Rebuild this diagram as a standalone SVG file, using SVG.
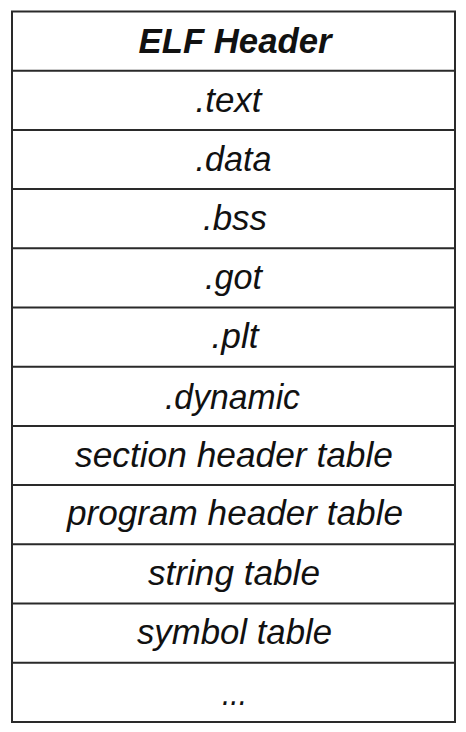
<svg xmlns="http://www.w3.org/2000/svg" width="466" height="732" viewBox="0 0 466 732">
<style>
.t{font-family:"Liberation Sans",Arial,sans-serif;font-style:italic;font-size:35px;fill:#111;text-anchor:middle}
.b{font-weight:bold}
.ln{stroke:#2a2a2a;stroke-width:2;fill:none}
</style>
<rect width="466" height="732" fill="#fff"/>
<g id="connectors">
<rect class="ln" x="12" y="11.5" width="443" height="710.5"/>
<path class="ln" d="M12 70.7H455M12 129.9H455M12 189.1H455M12 248.3H455M12 307.5H455M12 366.7H455M12 425.9H455M12 485.1H455M12 544.3H455M12 603.5H455M12 662.7H455"/>
</g>
<g id="elf-header"><text class="t b" x="235" y="52.5" textLength="193" lengthAdjust="spacingAndGlyphs">ELF Header</text></g>
<g id="text"><text class="t" x="228.5" y="111.5" textLength="66" lengthAdjust="spacingAndGlyphs">.text</text></g>
<g id="data"><text class="t" x="233.5" y="170.8" textLength="76" lengthAdjust="spacingAndGlyphs">.data</text></g>
<g id="bss"><text class="t" x="235" y="229.9" textLength="64" lengthAdjust="spacingAndGlyphs">.bss</text></g>
<g id="got"><text class="t" x="233.5" y="289" textLength="57" lengthAdjust="spacingAndGlyphs">.got</text></g>
<g id="plt"><text class="t" x="235" y="348.3" textLength="47" lengthAdjust="spacingAndGlyphs">.plt</text></g>
<g id="dynamic"><text class="t" x="232.5" y="408.5" textLength="135" lengthAdjust="spacingAndGlyphs">.dynamic</text></g>
<g id="section-header-table"><text class="t" x="234" y="467" textLength="318" lengthAdjust="spacingAndGlyphs">section header table</text></g>
<g id="program-header-table"><text class="t" x="235" y="525" textLength="336" lengthAdjust="spacingAndGlyphs">program header table</text></g>
<g id="string-table"><text class="t" x="234" y="585" textLength="172" lengthAdjust="spacingAndGlyphs">string table</text></g>
<g id="symbol-table"><text class="t" x="234.5" y="643.7" textLength="195" lengthAdjust="spacingAndGlyphs">symbol table</text></g>
<g id="more"><text class="t" x="234.5" y="705" textLength="25" lengthAdjust="spacingAndGlyphs">...</text></g>
</svg>
